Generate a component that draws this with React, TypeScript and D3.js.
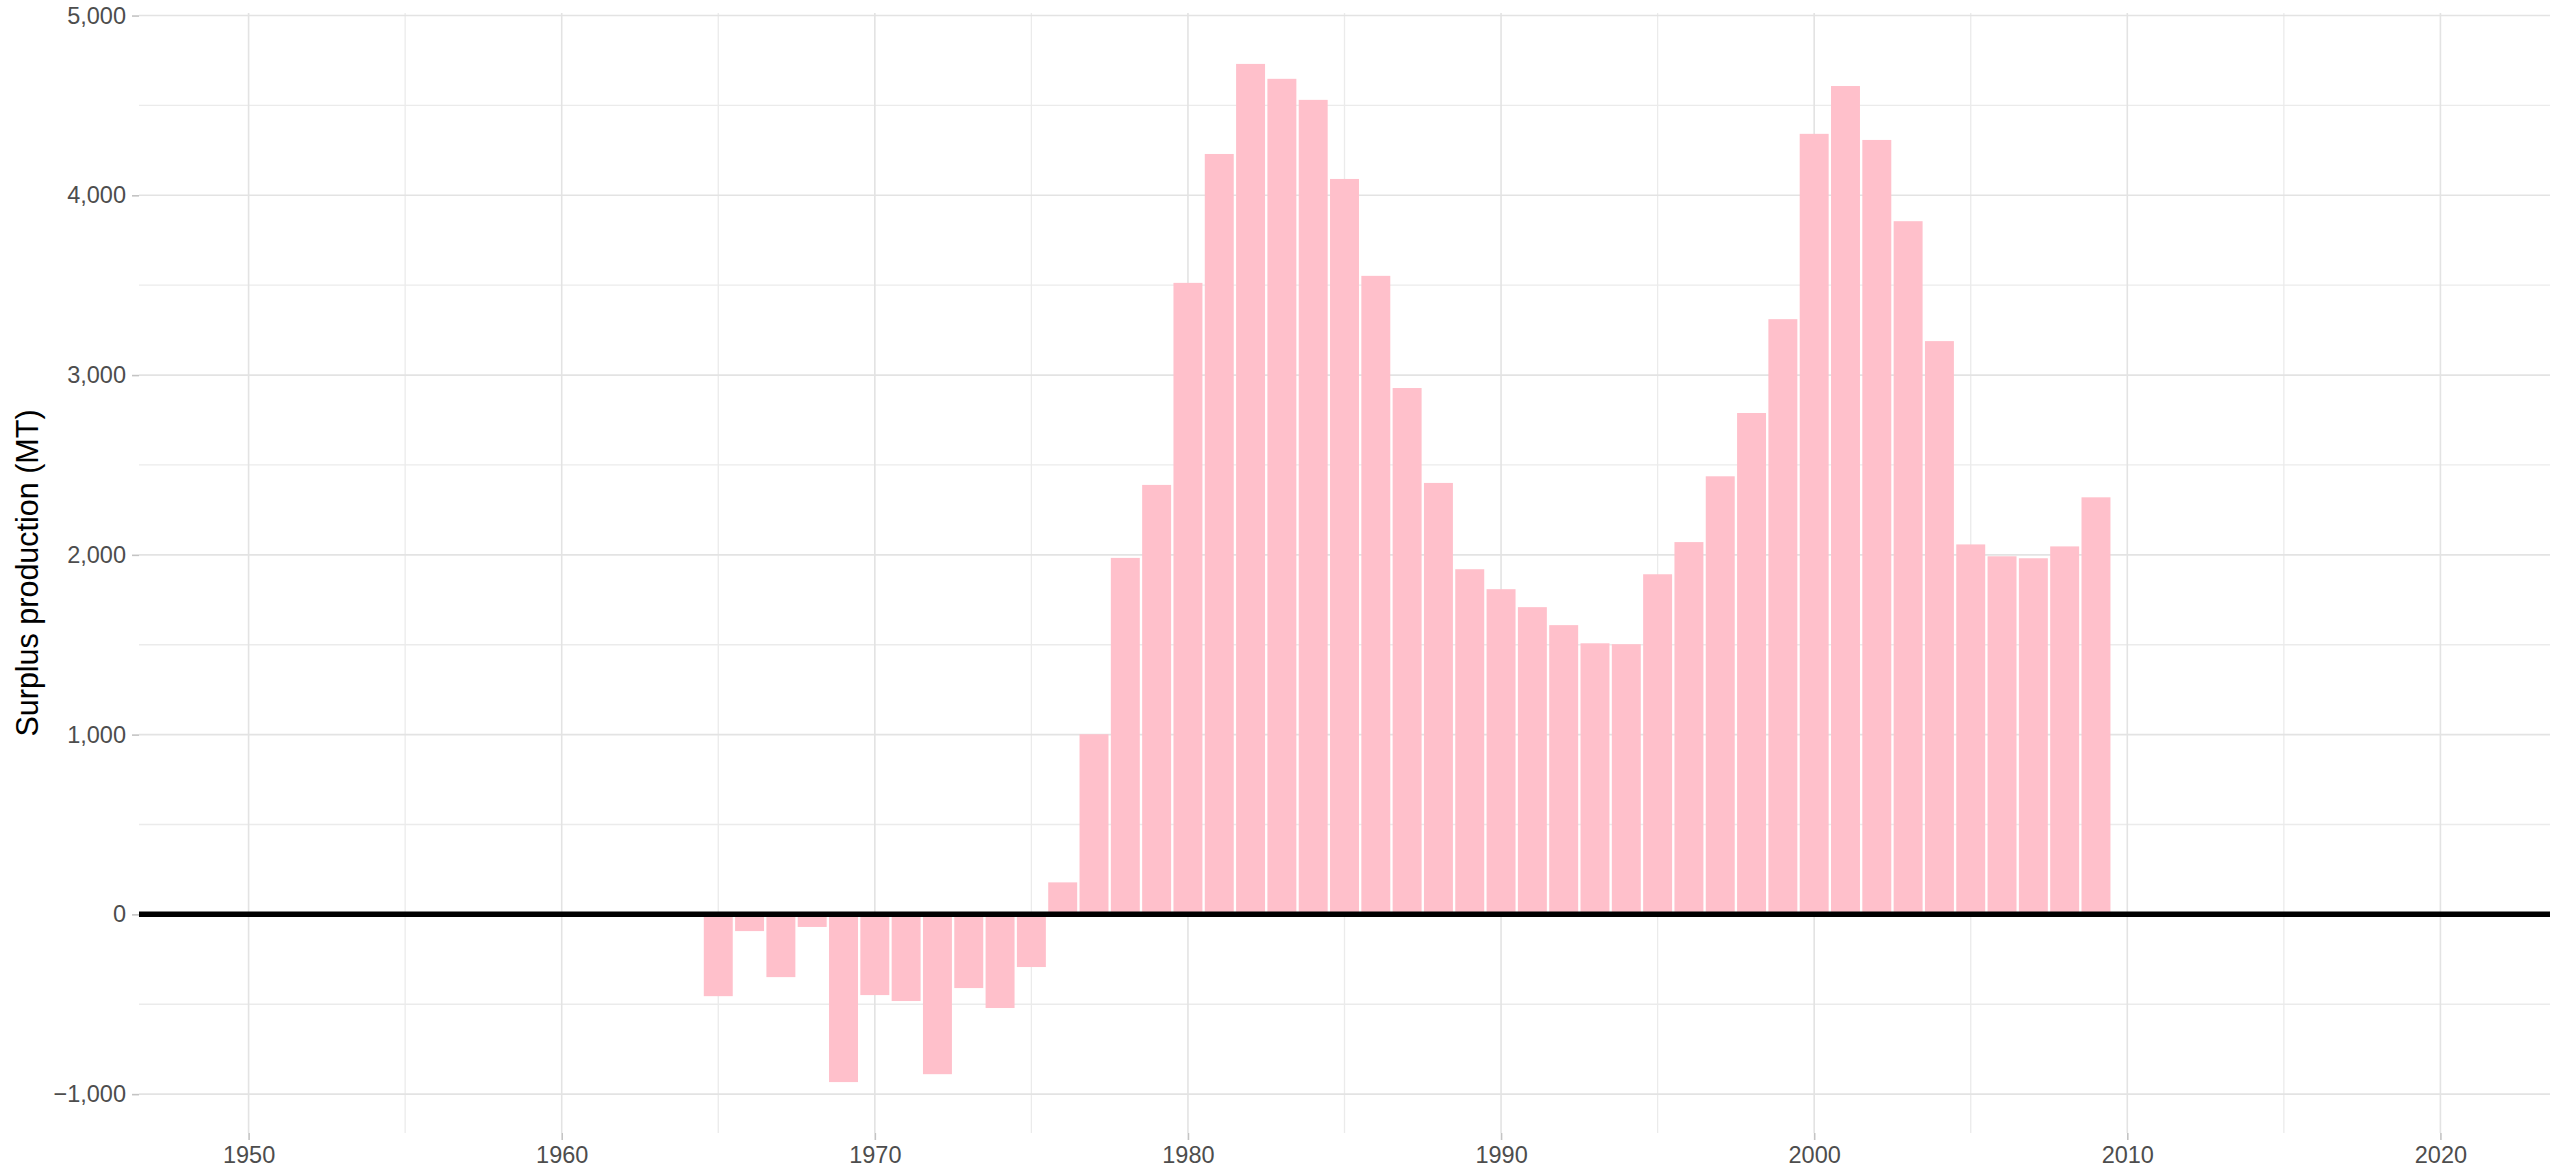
import * as d3 from "d3";
import { useEffect, useRef } from "react";

// Surplus production by year
const years: number[] = [
  1965, 1966, 1967, 1968, 1969, 1970, 1971, 1972, 1973, 1974, 1975, 1976,
  1977, 1978, 1979, 1980, 1981, 1982, 1983, 1984, 1985, 1986, 1987, 1988,
  1989, 1990, 1991, 1992, 1993, 1994, 1995, 1996, 1997, 1998, 1999, 2000,
  2001, 2002, 2003, 2004, 2005, 2006, 2007, 2008, 2009,
];

const surplus: number[] = [
  -455, -93, -349, -70, -933, -449, -482, -889, -410, -521, -293, 178,
  1002, 1983, 2389, 3513, 4230, 4731, 4648, 4531, 4091, 3552, 2928, 2400,
  1920, 1809, 1709, 1609, 1508, 1503, 1892, 2071, 2437, 2789, 3311, 4342,
  4608, 4308, 3856, 3189, 2058, 1992, 1981, 2047, 2320,
];

const xMajorTicks: number[] = [1950, 1960, 1970, 1980, 1990, 2000, 2010, 2020];
const xMinorTicks: number[] = [1955, 1965, 1975, 1985, 1995, 2005, 2015];
const yMajorTicks: number[] = [-1000, 0, 1000, 2000, 3000, 4000, 5000];
const yMinorTicks: number[] = [-500, 500, 1500, 2500, 3500, 4500];
const xLimits: number[] = [1950, 2020];

const yTitle = "Surplus production (MT)";

export default function App() {
  const svgRef = useRef<SVGSVGElement>(null);

  useEffect(() => {
    if (!svgRef.current) return;

    const svg = d3.select(svgRef.current);
    svg.selectAll("*").remove();

    const width = 2569;
    const height = 1170;
    const panel = { left: 139, right: 2550, top: 13, bottom: 1133 };
    const font = "'Liberation Sans', Arial, Helvetica, sans-serif";

    const data = years.map((year, i) => ({ year, value: surplus[i] }));

    // ggplot-like 5% expansion on both scales
    const xSpan = xLimits[1] - xLimits[0];
    const x = d3
      .scaleLinear()
      .domain([xLimits[0] - xSpan * 0.05, xLimits[1] + xSpan * 0.05])
      .range([panel.left, panel.right]);

    const yMin = d3.min(data, (d) => d.value) || 0;
    const yMax = d3.max(data, (d) => d.value) || 0;
    const ySpan = yMax - yMin;
    const y = d3
      .scaleLinear()
      .domain([yMin - ySpan * 0.05, yMax + ySpan * 0.05])
      .range([panel.bottom, panel.top]);

    svg.attr("width", width).attr("height", height);

    svg
      .append("rect")
      .attr("width", width)
      .attr("height", height)
      .attr("fill", "#ffffff");

    // Grid lines
    const grid = svg.append("g");

    grid
      .selectAll(".y-minor")
      .data(yMinorTicks)
      .enter()
      .append("line")
      .attr("x1", panel.left)
      .attr("x2", panel.right)
      .attr("y1", (d) => y(d))
      .attr("y2", (d) => y(d))
      .attr("stroke", "#ebebeb")
      .attr("stroke-width", 1.3);

    grid
      .selectAll(".x-minor")
      .data(xMinorTicks)
      .enter()
      .append("line")
      .attr("x1", (d) => x(d))
      .attr("x2", (d) => x(d))
      .attr("y1", panel.top)
      .attr("y2", panel.bottom)
      .attr("stroke", "#ebebeb")
      .attr("stroke-width", 1.3);

    grid
      .selectAll(".y-major")
      .data(yMajorTicks)
      .enter()
      .append("line")
      .attr("x1", panel.left)
      .attr("x2", panel.right)
      .attr("y1", (d) => y(d))
      .attr("y2", (d) => y(d))
      .attr("stroke", "#e3e3e3")
      .attr("stroke-width", 1.6);

    grid
      .selectAll(".x-major")
      .data(xMajorTicks)
      .enter()
      .append("line")
      .attr("x1", (d) => x(d))
      .attr("x2", (d) => x(d))
      .attr("y1", panel.top)
      .attr("y2", panel.bottom)
      .attr("stroke", "#e3e3e3")
      .attr("stroke-width", 1.6);

    // Bars
    const barWidth = x(0.925) - x(0);
    svg
      .append("g")
      .selectAll("rect")
      .data(data)
      .enter()
      .append("rect")
      .attr("x", (d) => x(d.year) - barWidth / 2)
      .attr("y", (d) => y(Math.max(0, d.value)))
      .attr("width", barWidth)
      .attr("height", (d) => Math.abs(y(d.value) - y(0)))
      .attr("fill", "#ffc0cb");

    // Zero line
    svg
      .append("line")
      .attr("x1", panel.left)
      .attr("x2", panel.right)
      .attr("y1", y(0))
      .attr("y2", y(0))
      .attr("stroke", "#000000")
      .attr("stroke-width", 5.5);

    // Y axis
    const yAxis = svg
      .append("g")
      .attr("transform", `translate(${panel.left},0)`)
      .call(
        d3
          .axisLeft(y)
          .tickValues(yMajorTicks)
          .tickSize(7)
          .tickPadding(6)
          .tickFormat((d) => d3.format(",")(d as number).replace("-", "\u2212")),
      );
    yAxis.select(".domain").remove();
    yAxis.selectAll("line").attr("stroke", "#c4c4c4").attr("stroke-width", 1.6);
    yAxis
      .selectAll("text")
      .attr("fill", "#4d4d4d")
      .style("font-family", font)
      .style("font-size", "23.5px");

    // X axis
    const xAxis = svg
      .append("g")
      .attr("transform", `translate(0,${panel.bottom})`)
      .call(
        d3
          .axisBottom(x)
          .tickValues(xMajorTicks)
          .tickSize(7)
          .tickPadding(6)
          .tickFormat((d) => String(d)),
      );
    xAxis.select(".domain").remove();
    xAxis.selectAll("line").attr("stroke", "#c4c4c4").attr("stroke-width", 1.6);
    xAxis
      .selectAll("text")
      .attr("fill", "#4d4d4d")
      .style("font-family", font)
      .style("font-size", "23.5px");

    // Y axis title
    svg
      .append("text")
      .attr("transform", `translate(38,${(panel.top + panel.bottom) / 2}) rotate(-90)`)
      .attr("text-anchor", "middle")
      .style("font-family", font)
      .style("font-size", "30.5px")
      .attr("fill", "#000000")
      .text(yTitle);
  }, []);

  return (
    <div style={{ position: "absolute", left: 0, top: 0 }}>
      <svg ref={svgRef} style={{ display: "block" }} />
    </div>
  );
}
